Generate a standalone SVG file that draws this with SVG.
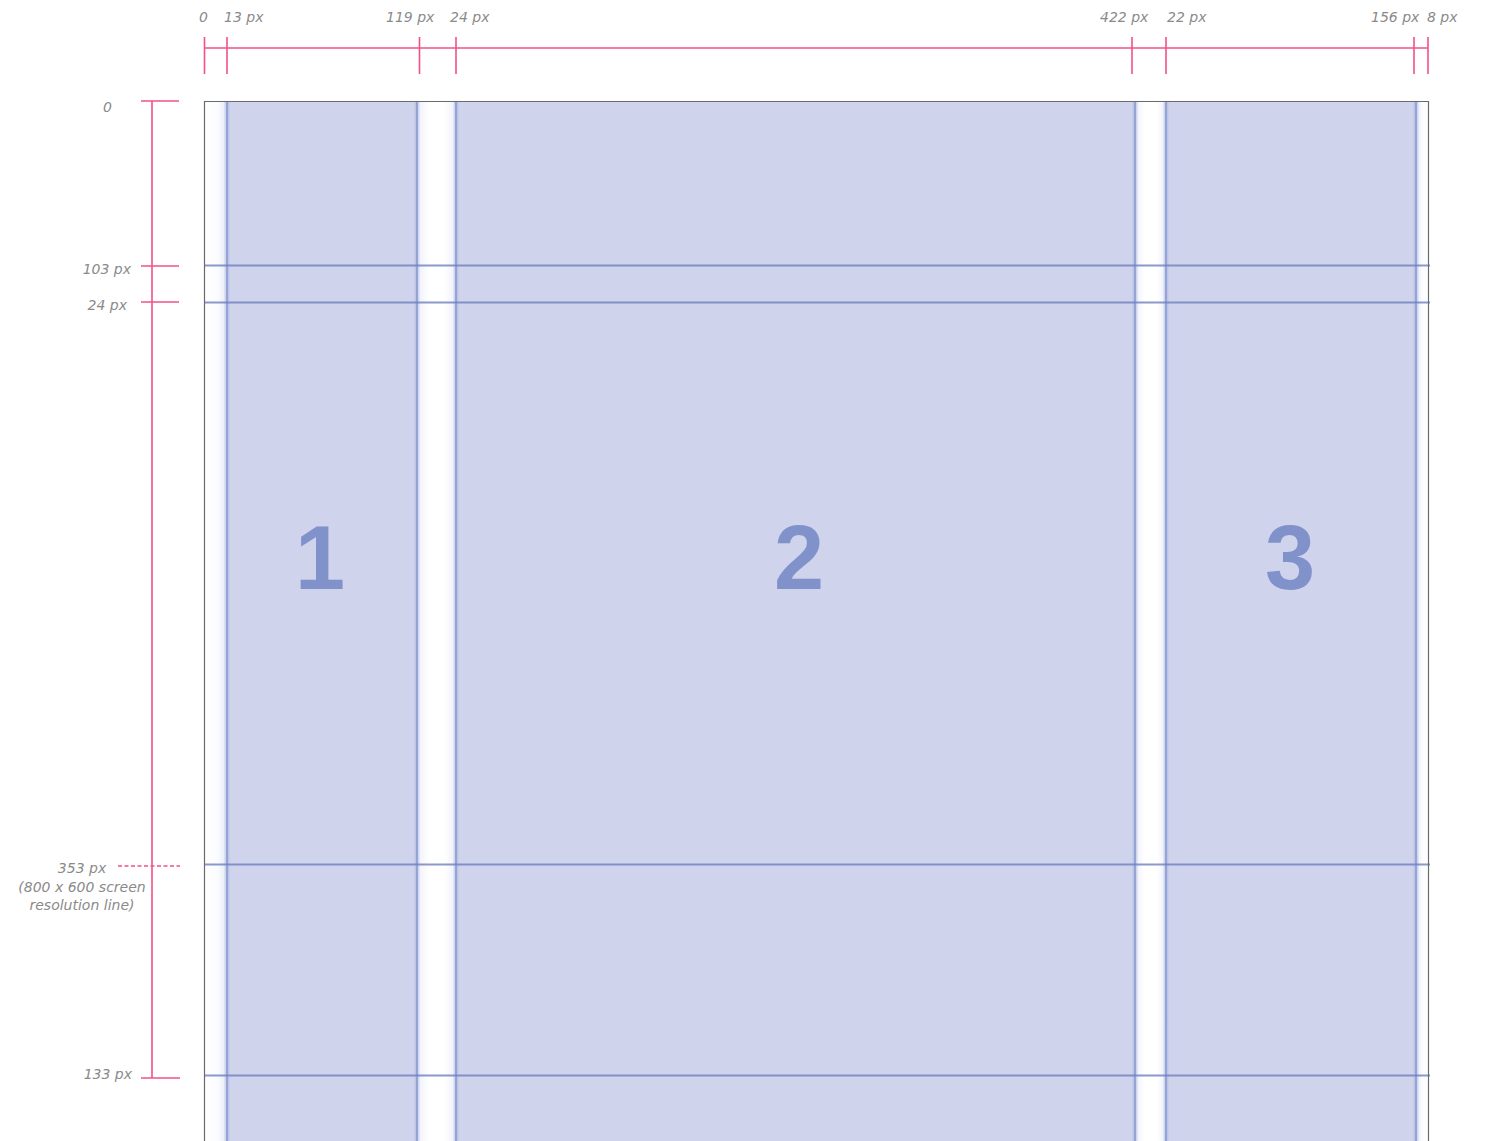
<svg xmlns="http://www.w3.org/2000/svg" width="1486" height="1141" viewBox="0 0 1486 1141">
<defs>
<style>
.lbl{font-family:"DejaVu Sans",sans-serif;font-style:italic;font-size:14px;fill:#8a8a8a}
.rule{stroke:#f2508a;stroke-width:1.6;fill:none}
.col{fill:#cfd4ec}
.edge{stroke:#8d9dd3;stroke-width:2;opacity:0.85}
.halo{stroke:#aab6e0;stroke-width:5;opacity:0.45}
.hl{stroke:#6f80c0;stroke-width:2;opacity:0.8}
.num{font-family:"Liberation Sans",Arial,sans-serif;font-weight:bold;font-size:90px;fill:#7b8cc8;text-anchor:middle;opacity:0.92}
</style>
<linearGradient id="gut" x1="0" y1="0" x2="1" y2="0">
<stop offset="0" stop-color="#eef0fa"/>
<stop offset="0.3" stop-color="#ffffff"/>
<stop offset="0.7" stop-color="#ffffff"/>
<stop offset="1" stop-color="#eef0fa"/>
</linearGradient>
<linearGradient id="gutL" x1="0" y1="0" x2="1" y2="0">
<stop offset="0" stop-color="#ffffff"/>
<stop offset="0.6" stop-color="#fbfcff"/>
<stop offset="1" stop-color="#e6e9f6"/>
</linearGradient>
<linearGradient id="gutR" x1="0" y1="0" x2="1" y2="0">
<stop offset="0" stop-color="#e6e9f6"/>
<stop offset="0.5" stop-color="#fbfcff"/>
<stop offset="1" stop-color="#ffffff"/>
</linearGradient>
</defs>
<rect width="1486" height="1141" fill="#ffffff"/>
<g id="frame">
<rect x="204" y="101" width="23" height="1040" fill="url(#gutL)"/>
<rect x="417" y="101" width="39" height="1040" fill="url(#gut)"/>
<rect x="1135" y="101" width="31" height="1040" fill="url(#gut)"/>
<rect x="1416" y="101" width="12" height="1040" fill="url(#gutR)"/>
</g>
<g id="column-1">
<rect class="col" x="227" y="101" width="190" height="1040"/>
<line class="halo" x1="227" y1="101" x2="227" y2="1141"/>
<line class="halo" x1="417" y1="101" x2="417" y2="1141"/>
<line class="edge" x1="227" y1="101" x2="227" y2="1141"/>
<line class="edge" x1="417" y1="101" x2="417" y2="1141"/>
<text class="num" x="320" y="589">1</text>
</g>
<g id="column-2">
<rect class="col" x="456" y="101" width="679" height="1040"/>
<line class="halo" x1="456" y1="101" x2="456" y2="1141"/>
<line class="halo" x1="1135" y1="101" x2="1135" y2="1141"/>
<line class="edge" x1="456" y1="101" x2="456" y2="1141"/>
<line class="edge" x1="1135" y1="101" x2="1135" y2="1141"/>
<text class="num" x="799" y="589">2</text>
</g>
<g id="column-3">
<rect class="col" x="1166" y="101" width="250" height="1040"/>
<line class="halo" x1="1166" y1="101" x2="1166" y2="1141"/>
<line class="halo" x1="1416" y1="101" x2="1416" y2="1141"/>
<line class="edge" x1="1166" y1="101" x2="1166" y2="1141"/>
<line class="edge" x1="1416" y1="101" x2="1416" y2="1141"/>
<text class="num" x="1290" y="589">3</text>
</g>
<g id="guides">
<line class="hl" x1="204" y1="265.5" x2="1430" y2="265.5"/>
<line class="hl" x1="204" y1="302.5" x2="1430" y2="302.5"/>
<line class="hl" x1="204" y1="864.5" x2="1430" y2="864.5"/>
<line class="hl" x1="204" y1="1075.5" x2="1430" y2="1075.5"/>
</g>
<g id="border">
<path d="M204.5 1141 V101.5 H1428.5 V1141" fill="none" stroke="#6a6a6a" stroke-width="1.2"/>
</g>
<g id="top-ruler">
<line class="rule" x1="204" y1="48" x2="1428" y2="48"/>
<line class="rule" x1="204.5" y1="37" x2="204.5" y2="74"/>
<line class="rule" x1="227" y1="37" x2="227" y2="74"/>
<line class="rule" x1="419.5" y1="37" x2="419.5" y2="74"/>
<line class="rule" x1="456" y1="37" x2="456" y2="74"/>
<line class="rule" x1="1132" y1="37" x2="1132" y2="74"/>
<line class="rule" x1="1166" y1="37" x2="1166" y2="74"/>
<line class="rule" x1="1414" y1="37" x2="1414" y2="74"/>
<line class="rule" x1="1428" y1="37" x2="1428" y2="74"/>
<text class="lbl" x="199" y="22">0</text>
<text class="lbl" x="224" y="22">13 px</text>
<text class="lbl" x="386" y="22">119 px</text>
<text class="lbl" x="450" y="22">24 px</text>
<text class="lbl" x="1100" y="22">422 px</text>
<text class="lbl" x="1167" y="22">22 px</text>
<text class="lbl" x="1371" y="22">156 px</text>
<text class="lbl" x="1427" y="22">8 px</text>
</g>
<g id="left-ruler">
<line class="rule" x1="152" y1="101" x2="152" y2="1078"/>
<line class="rule" x1="141" y1="101" x2="179" y2="101"/>
<line class="rule" x1="141" y1="266" x2="179" y2="266"/>
<line class="rule" x1="141" y1="302" x2="179" y2="302"/>
<line class="rule" x1="141" y1="1078" x2="180" y2="1078"/>
<line class="rule" x1="118" y1="866" x2="180" y2="866" stroke-dasharray="4,2.5" stroke-width="1.4"/>
<text class="lbl" x="112" y="112" text-anchor="end">0</text>
<text class="lbl" x="131" y="274" text-anchor="end">103 px</text>
<text class="lbl" x="127" y="310" text-anchor="end">24 px</text>
<text class="lbl" x="82" y="873" text-anchor="middle">353 px</text>
<text class="lbl" x="82" y="892" text-anchor="middle">(800 x 600 screen</text>
<text class="lbl" x="82" y="910" text-anchor="middle">resolution line)</text>
<text class="lbl" x="132" y="1079" text-anchor="end">133 px</text>
</g>
</svg>
